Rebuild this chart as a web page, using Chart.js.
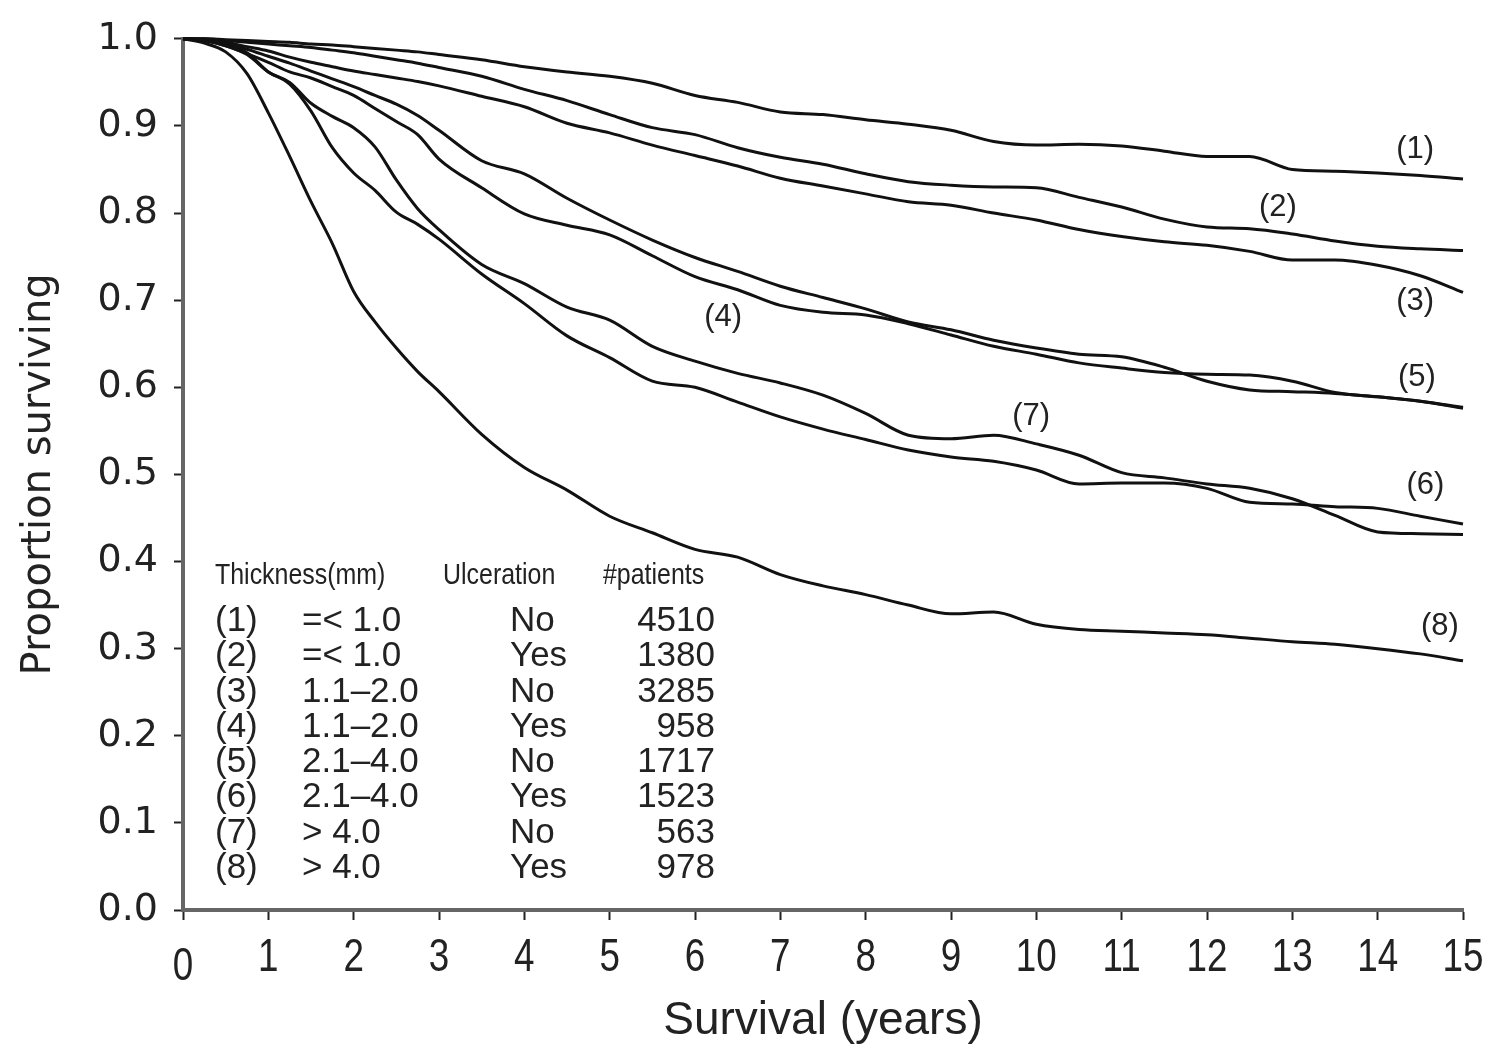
<!DOCTYPE html>
<html>
<head>
<meta charset="utf-8">
<script src="https://cdn.jsdelivr.net/npm/chart.js@4"></script>
<style>
  html, body { margin: 0; padding: 0; background: #fff; }
  canvas { display: block; }
</style>
</head>
<body>
<canvas id="chart" width="1495" height="1049"></canvas>
<script>
// Time points (years) shared by all curves
var years = [0, 0.25, 0.5, 0.75, 1, 1.25, 1.5, 1.75, 2, 2.25, 2.5, 2.75, 3, 3.5, 4, 4.5, 5, 5.5, 6, 6.5,
             7, 7.5, 8, 8.5, 9, 9.5, 10, 10.5, 11, 11.5, 12, 12.5, 13, 13.5, 14, 14.5, 15];

// Proportion surviving
var curve1 = [1.0, 1.0, 0.999, 0.998, 0.997, 0.996, 0.994, 0.993, 0.991, 0.989, 0.987, 0.985, 0.982, 0.976, 0.968, 0.962, 0.957, 0.949, 0.935, 0.927,
              0.916, 0.913, 0.907, 0.902, 0.895, 0.882, 0.878, 0.879, 0.877, 0.871, 0.865, 0.865, 0.850, 0.848, 0.846, 0.843, 0.839];
var curve2 = [1.0, 1.0, 0.998, 0.996, 0.994, 0.992, 0.990, 0.987, 0.984, 0.980, 0.976, 0.972, 0.967, 0.957, 0.942, 0.929, 0.913, 0.898, 0.890, 0.875,
              0.864, 0.856, 0.845, 0.836, 0.832, 0.830, 0.829, 0.818, 0.807, 0.793, 0.784, 0.782, 0.776, 0.768, 0.762, 0.759, 0.757];
var curve3 = [1.0, 0.999, 0.996, 0.991, 0.986, 0.979, 0.973, 0.968, 0.963, 0.959, 0.955, 0.951, 0.946, 0.934, 0.922, 0.903, 0.892, 0.878, 0.866, 0.854,
              0.840, 0.831, 0.822, 0.813, 0.809, 0.800, 0.792, 0.781, 0.773, 0.767, 0.763, 0.756, 0.746, 0.746, 0.740, 0.728, 0.709];
var curve4 = [1.0, 0.998, 0.992, 0.983, 0.973, 0.962, 0.955, 0.945, 0.935, 0.920, 0.905, 0.890, 0.862, 0.829, 0.799, 0.786, 0.775, 0.751, 0.727, 0.712,
              0.694, 0.686, 0.683, 0.673, 0.660, 0.647, 0.638, 0.628, 0.622, 0.617, 0.615, 0.614, 0.607, 0.594, 0.589, 0.584, 0.576];
var curve5 = [1.0, 0.999, 0.995, 0.988, 0.980, 0.972, 0.963, 0.954, 0.945, 0.935, 0.925, 0.912, 0.895, 0.860, 0.845, 0.817, 0.792, 0.769, 0.749, 0.733,
              0.716, 0.703, 0.690, 0.675, 0.666, 0.654, 0.645, 0.638, 0.635, 0.623, 0.607, 0.597, 0.595, 0.593, 0.589, 0.584, 0.577];
var curve6 = [1.0, 0.998, 0.992, 0.982, 0.962, 0.948, 0.917, 0.875, 0.846, 0.826, 0.801, 0.787, 0.770, 0.730, 0.696, 0.659, 0.634, 0.607, 0.600, 0.583,
              0.566, 0.552, 0.540, 0.528, 0.520, 0.515, 0.505, 0.489, 0.490, 0.490, 0.484, 0.468, 0.466, 0.463, 0.461, 0.452, 0.443];
var curve7 = [1.0, 0.998, 0.993, 0.984, 0.962, 0.950, 0.926, 0.911, 0.898, 0.876, 0.838, 0.805, 0.781, 0.741, 0.719, 0.692, 0.677, 0.647, 0.630, 0.616,
              0.605, 0.591, 0.570, 0.545, 0.541, 0.545, 0.535, 0.522, 0.502, 0.496, 0.489, 0.484, 0.472, 0.453, 0.434, 0.432, 0.431];
var curve8 = [1.0, 0.995, 0.985, 0.960, 0.915, 0.865, 0.813, 0.765, 0.710, 0.675, 0.645, 0.618, 0.595, 0.546, 0.508, 0.482, 0.452, 0.433, 0.414, 0.405,
              0.385, 0.372, 0.362, 0.350, 0.340, 0.342, 0.328, 0.322, 0.320, 0.318, 0.316, 0.312, 0.308, 0.305, 0.300, 0.294, 0.286];

var all_curves = [curve1, curve2, curve3, curve4, curve5, curve6, curve7, curve8];

// Curve labels, placed in data units
var label_text = ['(1)', '(2)', '(3)', '(4)', '(5)', '(6)', '(7)', '(8)'];
var label_x = [14.44, 12.83, 14.44, 6.33, 14.46, 14.56, 9.94, 14.73];
var label_y = [0.873, 0.806, 0.699, 0.680, 0.611, 0.487, 0.566, 0.326];

// Inset table
var table_header = ['Thickness(mm)', 'Ulceration', '#patients'];
var row_ids = ['(1)', '(2)', '(3)', '(4)', '(5)', '(6)', '(7)', '(8)'];
var thickness = ['=< 1.0', '=< 1.0', '1.1\u20132.0', '1.1\u20132.0', '2.1\u20134.0', '2.1\u20134.0', '> 4.0', '> 4.0'];
var ulceration = ['No', 'Yes', 'No', 'Yes', 'No', 'Yes', 'No', 'Yes'];
var patients = ['4510', '1380', '3285', '958', '1717', '1523', '563', '978'];

var SANS = '"Liberation Sans", Arial, sans-serif';

// build one dataset per curve
function build_datasets(){
  return all_curves.map(function(values){
    return {
      data: years.map(function(t, i){ return {x: t, y: values[i]}; }),
      borderColor: '#111',
      borderWidth: 3,
      pointRadius: 0,
      fill: false,
      cubicInterpolationMode: 'monotone',
      clip: 6
    };
  });
}

// text squeezed horizontally, like the narrow face in the original
function narrow_text(ctx, text, x, y, squeeze){
  ctx.save();
  ctx.translate(x, y);
  ctx.scale(squeeze, 1);
  ctx.fillText(text, 0, 0);
  ctx.restore();
}

// draws curve labels, the table and the x tick labels
var annotations = {
  id: 'annotations',
  afterDraw: function(chart){
    var ctx = chart.ctx;
    var xs = chart.scales.x, ys = chart.scales.y;
    ctx.save();
    ctx.fillStyle = '#222';
    ctx.textBaseline = 'middle';

    ctx.font = '31px ' + SANS;
    ctx.textAlign = 'center';
    for (var i = 0; i < label_text.length; ++i)
      ctx.fillText(label_text[i], xs.getPixelForValue(label_x[i]), ys.getPixelForValue(label_y[i]));

    // x tick labels from the scale's own ticks
    ctx.font = '46px ' + SANS;
    xs.ticks.forEach(function(t){
      var drop = t.value === 0 ? 9 : 0;
      narrow_text(ctx, String(t.value), xs.getPixelForValue(t.value), xs.top + 48 + drop, 0.8);
    });

    // table anchored at its top-left corner
    var left = xs.getPixelForValue(0.375);
    var head = ys.getPixelForValue(0.383);
    ctx.textAlign = 'left';
    ctx.font = '29px ' + SANS;
    narrow_text(ctx, table_header[0], left, head, 0.86);
    narrow_text(ctx, table_header[1], left + 228, head, 0.86);
    narrow_text(ctx, table_header[2], left + 388, head, 0.86);

    ctx.font = '35px ' + SANS;
    for (var r = 0; r < row_ids.length; ++r){
      var yy = head + 45 + r * 35.3;
      ctx.textAlign = 'left';
      ctx.fillText(row_ids[r], left, yy);
      ctx.fillText(thickness[r], left + 87, yy);
      ctx.fillText(ulceration[r], left + 295, yy);
      ctx.textAlign = 'right';
      ctx.fillText(patients[r], left + 500, yy);
    }
    ctx.restore();
  }
};

var ctx = document.getElementById('chart');
var myChart = new Chart(ctx, {
  type: 'line',
  data: { datasets: build_datasets() },
  plugins: [annotations],
  options: {
    responsive: false,
    animation: false,
    devicePixelRatio: 1,
    layout: { padding: { top: 35, right: 32, bottom: 0, left: 0 } },
    plugins: { legend: { display: false }, tooltip: { enabled: false } },
    scales: {
      x: {
        type: 'linear', min: 0, max: 15,
        afterFit: function(s){ s.height = 139; },
        border: { color: '#666', width: 4 },
        grid: { drawOnChartArea: false, drawTicks: true, tickLength: 10, tickColor: '#222', tickWidth: 2 },
        ticks: { stepSize: 1, display: false },
        title: { display: true, text: 'Survival (years)', color: '#222',
                 font: { family: SANS, size: 46 }, padding: { top: 0, bottom: 0 } }
      },
      y: {
        min: 0, max: 1,
        afterFit: function(s){ s.width = 183; },
        border: { color: '#666', width: 4 },
        grid: { drawOnChartArea: false, drawTicks: true, tickLength: 9, tickColor: '#222', tickWidth: 2 },
        ticks: { stepSize: 0.1, color: '#222', padding: 16,
                 font: { family: '"DejaVu Sans", sans-serif', size: 38 },
                 callback: function(v){ return v.toFixed(1); } },
        title: { display: true, text: 'Proportion surviving', color: '#222',
                 font: { family: '"DejaVu Sans", sans-serif', size: 40 }, padding: { top: 16, bottom: 0 } }
      }
    }
  }
});
</script>
</body>
</html>
